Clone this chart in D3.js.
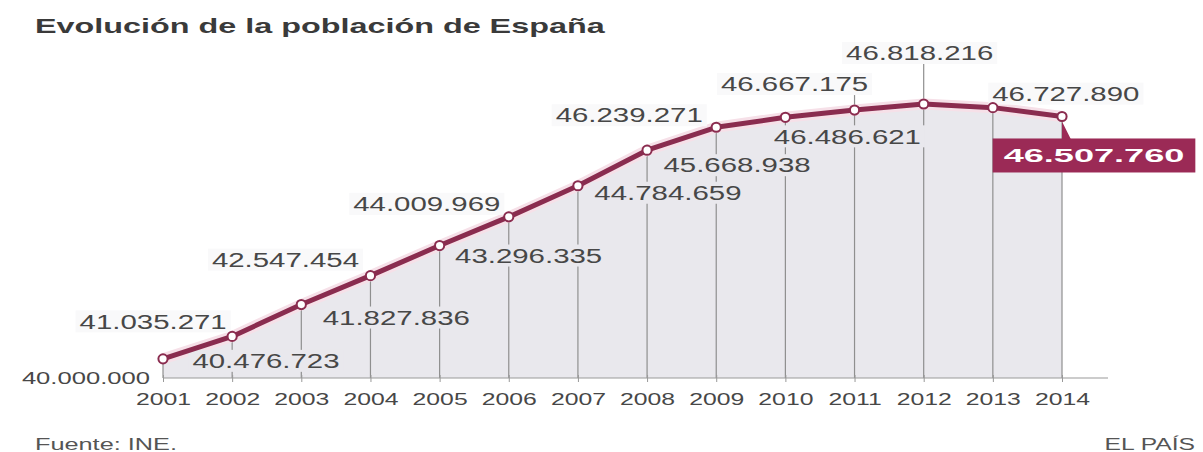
<!DOCTYPE html>
<html><head><meta charset="utf-8">
<script src="https://cdn.jsdelivr.net/npm/d3@7"></script>
<style>
body{margin:0;background:#fff;}
svg{display:block;font-family:"Liberation Sans",Arial,Helvetica,sans-serif;}
</style>
</head><body>
<svg id="c" width="1203" height="452"></svg>
<script>
// ---- data ----
const years = [2001,2002,2003,2004,2005,2006,2007,2008,2009,2010,2011,2012,2013,2014];
const population = [40476723,41035271,41827836,42547454,43296335,44009969,44784659,45668938,46239271,46486621,46667175,46818216,46727890,46507760];
const baseValue = 40000000;
const titleText = "Evolución de la población de España";
const sourceText = "Fuente: INE.";
const brandText = "EL PAÍS";

// ---- layout (label offsets relative to each point, px) ----
const labelOffsets = [[103,2],[-79,-15],[95,13],[-85,-16],[89,10],[-82,-13],[90,7],[90,15],[-87,-12],[62,19],[-60,-26],[-4,-51],[73,-14],[32,39]];

const fmt = d3.formatLocale({decimal:",",thousands:".",grouping:[3],currency:["","€"]}).format(",d");

const svg = d3.select("#c");
const x = d3.scaleLinear().domain([2001,2014]).range([163,1062]);
const y = d3.scaleLinear().domain([40000000,47000000]).range([378,96.7]);
const y0 = y(baseValue);

function stretch(sel, f){
  sel.each(function(){
    const w = this.getComputedTextLength();
    this.setAttribute("textLength", w*f);
    this.setAttribute("lengthAdjust","spacingAndGlyphs");
    this.__w = w*f;
  });
}

const data = years.map((yr,i)=>({year:yr, value:population[i], dx:labelOffsets[i][0], dy:labelOffsets[i][1], last:i===years.length-1}));

// title
svg.append("text").attr("x",35).attr("y",33).attr("font-size",21).attr("font-weight","bold")
  .attr("fill","#3a3a3a").text(titleText).call(stretch,1.54);

// area
svg.append("path").datum(data)
  .attr("d", d3.area().x(d=>x(d.year)).y0(y0).y1(d=>y(d.value)))
  .attr("fill","#e9e8ed");

// grid / leader lines
svg.append("g").selectAll("line").data(data).join("line")
  .attr("x1",d=>x(d.year)).attr("x2",d=>x(d.year))
  .attr("y1",y0)
  .attr("y2",d=> (d.dy<0 && Math.abs(d.dx)<65) ? y(d.value)+d.dy : y(d.value))
  .attr("stroke","#8f8f8f").attr("stroke-width",1.2);

// halo
const line = d3.line().x(d=>x(d.year)).y(d=>y(d.value));
svg.append("path").datum(data).attr("d",line).attr("fill","none")
  .attr("stroke","#f6e0e8").attr("stroke-width",11).attr("stroke-linejoin","round");

// value labels
const lg = svg.append("g");
const normal = data.filter(d=>!d.last);
const lbl = lg.selectAll("g").data(normal).join("g")
  .attr("transform",d=>`translate(${x(d.year)+d.dx},${y(d.value)+d.dy})`);
const rects = lbl.append("rect");
const texts = lbl.append("text").attr("text-anchor","middle").attr("dy","0.36em")
  .attr("font-size",20).attr("fill","#474747").text(d=>fmt(d.value)).call(stretch,1.47);
rects.each(function(d){
  const w = this.parentNode.querySelector("text").__w;
  d3.select(this).attr("x",-w/2-4).attr("y",-11).attr("width",w+8).attr("height",22)
    .attr("fill", d.dy<0 ? "#f9f9fa" : "#e9e8ed");
});

// main line
svg.append("path").datum(data).attr("d",line).attr("fill","none")
  .attr("stroke","#8a2c4f").attr("stroke-width",5).attr("stroke-linejoin","round");
svg.append("g").selectAll("circle").data(data).join("circle")
  .attr("cx",d=>x(d.year)).attr("cy",d=>y(d.value)).attr("r",4.6)
  .attr("fill","#fff").attr("stroke","#8a2c4f").attr("stroke-width",2);

// highlighted last value
const L = data[data.length-1];
const lx = x(L.year), ly = y(L.value);
const hb = svg.append("g");
const hbRect = hb.append("rect");
const hbPtr = hb.append("path");
const hbText = hb.append("text").attr("x",lx+L.dx).attr("y",ly+L.dy).attr("dy","0.36em")
  .attr("text-anchor","middle").attr("font-size",19).attr("font-weight","bold")
  .attr("fill","#fff").text(fmt(L.value)).call(stretch,1.9);
const bw = hbText.node().__w + 22, bh = 34;
hbRect.attr("x",lx+L.dx-bw/2).attr("y",ly+L.dy-bh/2).attr("width",bw).attr("height",bh).attr("fill","#9b2a56");
hbPtr.attr("d",`M${lx},${ly+5}L${lx},${ly+L.dy-bh/2+1}L${lx+9},${ly+L.dy-bh/2+1}Z`).attr("fill","#9b2a56");

// x axis
const xg = svg.append("g").attr("transform",`translate(0,${y0})`)
  .call(d3.axisBottom(x).tickValues(years).tickFormat(d3.format("d")).tickSize(4).tickPadding(11));
xg.select(".domain").remove();
xg.attr("font-family",null);
xg.selectAll(".tick line").attr("y1",-3).attr("stroke","#999");
xg.selectAll(".tick text").attr("font-size",16.5).attr("fill","#474747").call(stretch,1.5);
xg.append("line").attr("x1",x(2001)).attr("x2",x(2014)+46).attr("stroke","#999").attr("stroke-width",1.2);

// y axis (single base tick)
const yg = svg.append("g").attr("transform",`translate(${x(2001)},0)`)
  .call(d3.axisLeft(y).tickValues([baseValue]).tickFormat(fmt).tickSize(0).tickPadding(13));
yg.select(".domain").remove();
yg.attr("font-family",null);
yg.selectAll(".tick text").attr("font-size",16).attr("fill","#474747").call(stretch,1.6);

// footer
svg.append("text").attr("x",35).attr("y",450).attr("font-size",16).attr("fill","#555")
  .text(sourceText).call(stretch,1.58);
svg.append("text").attr("x",1195).attr("y",450).attr("text-anchor","end").attr("font-size",16).attr("fill","#555")
  .text(brandText).call(stretch,1.54);
</script>
</body></html>
